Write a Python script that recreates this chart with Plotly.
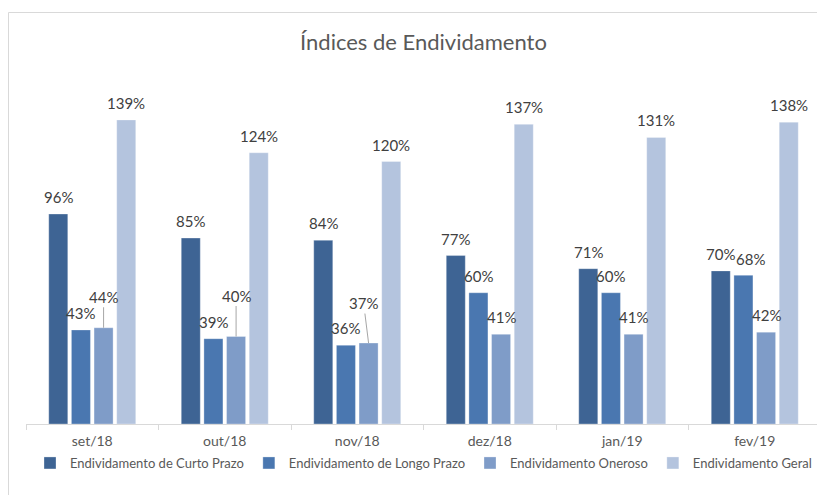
import plotly.graph_objects as go

# ---- data ----
categories = ["set/18", "out/18", "nov/18", "dez/18", "jan/19", "fev/19"]
series_names = [
    "Endividamento de Curto Prazo",
    "Endividamento de Longo Prazo",
    "Endividamento Oneroso",
    "Endividamento Geral",
]
curto_prazo = [0.96, 0.85, 0.84, 0.77, 0.71, 0.70]
longo_prazo = [0.43, 0.39, 0.36, 0.60, 0.60, 0.68]
oneroso = [0.44, 0.40, 0.37, 0.41, 0.41, 0.42]
geral = [1.39, 1.24, 1.20, 1.37, 1.31, 1.38]
chart_title = "Índices de Endividamento"
caption = "Gráfico 1- Gráfico de Variação dos Índices de Endividamento da Empresa."

# ---- style ----
colors = ["#3E6494", "#4A77B0", "#7F9CC8", "#B4C4DE"]
FONT = "Lato, 'Open Sans', sans-serif"
BARGAP = 0.316
BARGROUPGAP = 0.16
# page body adds an 8px margin; figure is sized to fill the rest of the window
W, H = 817, 487
ML, MR, MT, MB = 18, 4, 66, 71
PW, PH = W - ML - MR, H - MT - MB
# manual label offsets (pixels): (category index, series index) -> (dx, dy, leader line)
label_offsets = {
    (0, 2): (0, 31, True),
    (1, 2): (0, 41, True),
    (2, 2): (-5, 40, True),
    (5, 1): (7, 16, False),
}
DEFAULT_DY = 17

all_series = [curto_prazo, longo_prazo, oneroso, geral]

fig = go.Figure()
for name, vals, col in zip(series_names, all_series, colors):
    fig.add_trace(go.Bar(
        x=categories, y=vals, name=name,
        marker=dict(color=col, line=dict(color="rgba(255,255,255,0.6)", width=0.5)),
        hovertemplate="%{x}: %{y:.0%}<extra>" + name + "</extra>",
    ))

n = len(all_series)
slot = (1 - BARGAP) / n
annotations = []
for si, vals in enumerate(all_series):
    off = -(1 - BARGAP) / 2 + (si + 0.5) * slot
    for ci, v in enumerate(vals):
        dx, dy, leader = label_offsets.get((ci, si), (0, DEFAULT_DY, False))
        txt = f"{round(v * 100)}%"
        if leader:
            annotations.append(dict(
                x=ci + off, y=v, xref="x", yref="y", text=txt,
                showarrow=True, ax=dx, ay=-dy, arrowhead=0, arrowwidth=1,
                arrowcolor="#a6a6a6", standoff=0,
                font=dict(family=FONT, size=15, color="#404040"),
            ))
        else:
            annotations.append(dict(
                x=ci + off, y=v, xref="x", yref="y", text=txt,
                showarrow=False, xshift=dx, yshift=dy, yanchor="middle",
                font=dict(family=FONT, size=15, color="#404040"),
            ))

annotations.append(dict(
    text=caption, xref="paper", yref="paper", x=2 / PW, y=(PH + MT - 1) / PH,
    xanchor="left", yanchor="bottom", showarrow=False,
    font=dict(family="DejaVu Serif, serif", size=18, color="#000000"),
))

frame_left = -(ML - 0.5) / PW
frame_top = (PH + MT - 4.5) / PH
fig.update_layout(
    width=W, height=H,
    margin=dict(l=ML, r=MR, t=MT, b=MB, autoexpand=False),
    paper_bgcolor="white", plot_bgcolor="white",
    barmode="group", bargap=BARGAP, bargroupgap=BARGROUPGAP,
    title=dict(text=chart_title, x=0.5, xref="paper", xanchor="center",
               y=1 - 34 / H, yref="container", yanchor="middle",
               font=dict(family=FONT, size=22, color="#595959")),
    xaxis=dict(type="category", range=[-0.5, len(categories) - 0.5],
               showline=True, linecolor="#d9d9d9", linewidth=1,
               ticks="outside", tickson="boundaries", ticklen=5, tickcolor="#d9d9d9",
               ticklabelstandoff=4,
               tickfont=dict(family=FONT, size=14, color="#595959"),
               showgrid=False, zeroline=False),
    yaxis=dict(range=[0, 1.6], visible=False),
    legend=dict(orientation="h", x=0.5, xanchor="center", y=-39 / PH, yanchor="middle",
                font=dict(family=FONT, size=13, color="#595959"),
                bgcolor="rgba(0,0,0,0)"),
    annotations=annotations,
    shapes=[
        dict(type="line", xref="paper", yref="paper",
             x0=frame_left, x1=frame_left, y0=-0.5, y1=frame_top,
             line=dict(color="#d9d9d9", width=1), layer="below"),
        dict(type="line", xref="paper", yref="paper",
             x0=frame_left, x1=1.5, y0=frame_top, y1=frame_top,
             line=dict(color="#d9d9d9", width=1), layer="below"),
    ],
    showlegend=True,
)

fig.write_html("out.html")
